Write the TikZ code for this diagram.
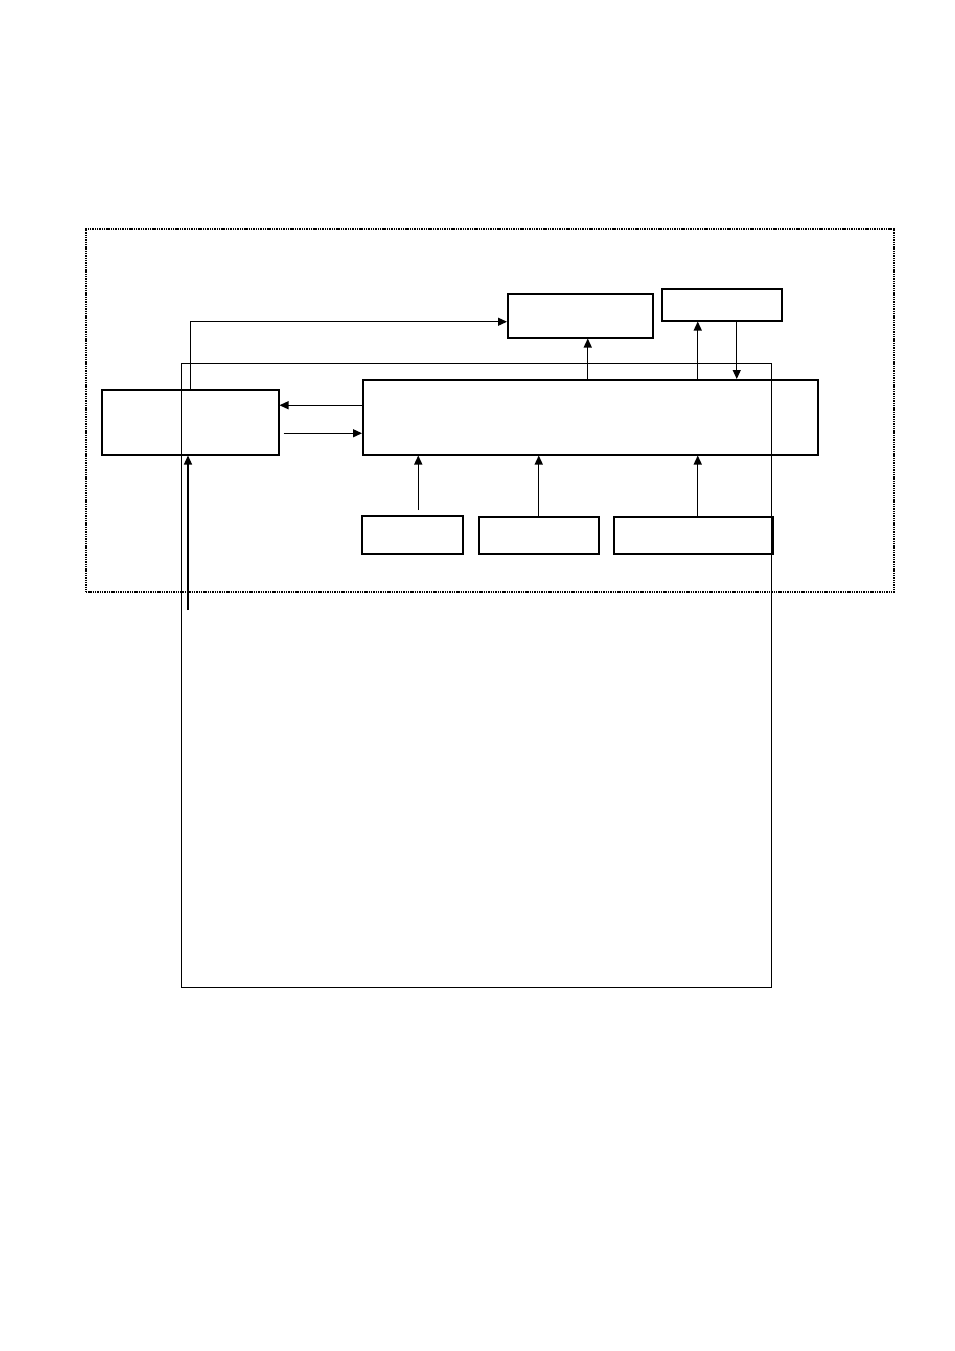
\documentclass[tikz,border=0pt]{standalone}
\usepackage{tikz}
\usetikzlibrary{arrows.meta, positioning}

\begin{document}
\begin{tikzpicture}[
    x=1pt, y=-1pt,
    every node/.style={draw, line width=1.5pt, inner sep=0pt, anchor=north west},
    arrow/.style={-{Triangle[length=9pt, width=8pt]}, line width=1.3pt},
    zone/.style={line width=1.6pt, dash pattern=on 1.4pt off 0.9pt}
]
\useasboundingbox (0,0) rectangle (954,1351);

% Frames
\node[zone, minimum width=808pt, minimum height=363pt] (zone) at (85,228) {};
\node[line width=1.4pt, minimum width=590pt, minimum height=624pt] (frame) at (181,363) {};

% Nodes
\node[minimum width=177pt, minimum height=65pt] (src) at (101,389) {};
\node[minimum width=455pt, minimum height=75pt] (core) at (362,379) {};
\node[minimum width=145pt, minimum height=44pt] (outA) at (507,293) {};
\node[minimum width=120pt, minimum height=32pt] (outB) at (661,288) {};
\node[minimum width=101pt, minimum height=38pt] (inA) at (361,515) {};
\node[minimum width=120pt, minimum height=37pt] (inB) at (478,516) {};
\node[minimum width=159pt, minimum height=37pt] (inC) at (613,516) {};
\coordinate (feed) at (188,610);

% Edges
\draw[arrow] (src.north) |- ([yshift=-6pt]outA.west);
\draw[arrow] ([yshift=17pt]src.east -| core.west) -- ([yshift=17pt]src.east);
\draw[arrow] ([xshift=4pt, yshift=-11pt]src.east) -- ([yshift=-11pt]src.east -| core.west);
\draw[arrow] (feed) -- (feed |- src.south);
\draw[arrow] ([xshift=6pt, yshift=5pt]inA.north) -- ([xshift=6pt]inA.north |- core.south);
\draw[arrow] (inB.north) -- (inB.north |- core.south);
\draw[arrow] ([xshift=4.5pt]inC.north) -- ([xshift=4.5pt]inC.north |- core.south);
\draw[arrow] ([xshift=7.5pt]outA.south |- core.north) -- ([xshift=7.5pt]outA.south);
\draw[arrow] ([xshift=-24pt]outB.south |- core.north) -- ([xshift=-24pt]outB.south);
\draw[arrow] ([xshift=15pt]outB.south) -- ([xshift=15pt]outB.south |- core.north);

\end{tikzpicture}
\end{document}
